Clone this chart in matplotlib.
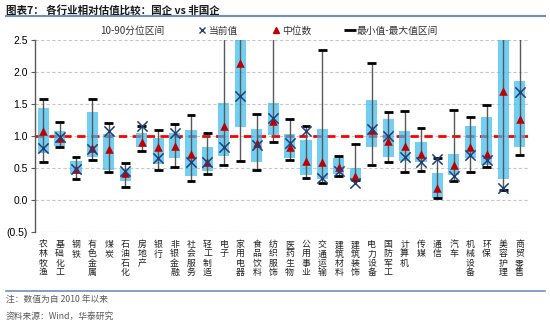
import numpy as np
import matplotlib.pyplot as plt
from matplotlib.lines import Line2D
from matplotlib.patches import Patch

plt.rcParams['font.family'] = ['Noto Sans CJK SC', 'DejaVu Sans']

industries = ['农林牧渔', '基础化工', '钢铁', '有色金属', '煤炭', '石油石化', '房地产', '银行',
              '非银金融', '社会服务', '轻工制造', '电子', '家用电器', '食品饮料', '纺织服饰',
              '医药生物', '公用事业', '交通运输', '建筑材料', '建筑装饰', '电力设备', '国防军工',
              '计算机', '传媒', '通信', '汽车', '机械设备', '环保', '美容护理', '商贸零售']

# 10% / 90% quantiles
p10 = [0.73, 0.85, 0.40, 0.67, 0.47, 0.29, 0.83, 0.56, 0.65, 0.37, 0.46, 0.69, 1.14, 0.59, 1.02,
       0.66, 0.39, 0.33, 0.41, 0.29, 0.82, 0.67, 0.61, 0.60, 0.03, 0.39, 0.66, 0.55, 0.32, 0.82]
p90 = [1.44, 1.07, 0.61, 1.37, 1.03, 0.48, 1.04, 0.97, 1.04, 1.09, 0.82, 1.51, 3.20, 1.11, 1.51,
       1.03, 0.94, 1.11, 0.66, 0.50, 1.56, 1.27, 1.08, 0.91, 0.42, 0.71, 1.15, 1.30, 3.30, 1.85]
# min / max
vmin = [0.59, 0.82, 0.32, 0.63, 0.43, 0.21, 0.77, 0.47, 0.52, 0.30, 0.40, 0.55, 0.61, 0.47, 0.90,
        0.62, 0.34, 0.27, 0.37, 0.31, 0.55, 0.60, 0.44, 0.45, 0.03, 0.29, 0.44, 0.51, 0.16, 0.70]
vmax = [1.58, 1.22, 0.67, 1.58, 1.20, 0.58, 1.16, 1.09, 1.18, 1.32, 1.04, 3.50, 3.80, 1.34, 3.00,
        1.27, 1.15, 2.34, 0.68, 0.87, 2.14, 1.38, 1.39, 1.13, 0.65, 1.41, 1.29, 1.48, 4.00, 3.20]
median = [1.07, 0.96, 0.48, 0.81, 0.79, 0.42, 0.90, 0.82, 0.84, 0.72, 0.60, 1.16, 2.14, 0.89, 1.24,
          0.83, 0.61, 0.59, 0.51, 0.38, 1.10, 0.92, 0.85, 0.71, 0.19, 0.54, 0.83, 0.71, 1.70, 1.27]
current = [0.81, 0.99, 0.48, 0.79, 1.07, 0.45, 1.15, 0.66, 1.04, 0.59, 0.59, 0.83, 1.63, 0.86, 1.28,
           0.89, 1.08, 0.34, 0.46, 0.27, 1.11, 1.00, 0.67, 0.60, 0.64, 0.37, 0.70, 0.62, 0.19, 1.69]

x = np.arange(len(industries))
p10 = np.array(p10)
p90 = np.array(p90)

fig = plt.figure(figsize=(5.5, 3.24), dpi=100)
ax = fig.add_axes([0.0636, 0.284, 0.896, 0.593])

ax.axhline(1.0, color='#FF0000', lw=2, ls=(0, (3, 2)), zorder=1)
ax.bar(x, p90 - p10, bottom=p10, width=0.68, color='#33BBEE', alpha=0.7, zorder=2)
ax.vlines(x, vmin, vmax, color='#595959', lw=1, zorder=3)
ax.hlines(vmin, x - 0.27, x + 0.27, color='black', lw=2, zorder=3)
ax.hlines(vmax, x - 0.27, x + 0.27, color='black', lw=2, zorder=3)
ax.scatter(x, median, marker='^', s=38, color='#C00000', zorder=4, lw=0)
ax.scatter(x, current, marker='x', s=55, color='#1F3F7A', lw=1.1, zorder=5)

ax.set_xlim(-0.5, len(industries) - 0.5)
ax.set_ylim(-0.5, 2.5)
yt = np.arange(-0.5, 2.51, 0.5)
ax.set_yticks(yt)
ax.set_yticklabels(['(0.5)' if v < 0 else f'{v:.1f}' for v in yt],
                   fontsize=7.5, family=['Liberation Sans', 'DejaVu Sans'])
ax.tick_params(axis='y', length=3, width=0.8, color='#595959', pad=2)
for v in yt:
    ax.axhline(v, color='#C8C8C8', lw=0.8, ls=(0, (3, 2)), zorder=0)

ax.set_xticks(x)
ax.set_xticklabels(['\n'.join(s) for s in industries], fontsize=6.4, linespacing=1.02,
                   va='top', color='#222222')
ax.tick_params(axis='x', length=0, pad=6)

for side in ['top', 'right', 'bottom']:
    ax.spines[side].set_visible(False)
ax.spines['left'].set_color('#595959')
ax.spines['left'].set_linewidth(1.0)

handles = [Patch(facecolor='none', edgecolor='none'),
           Line2D([], [], marker='x', ls='none', color='#1F3F7A', markersize=5, mew=1),
           Line2D([], [], marker='^', ls='none', color='#C00000', markersize=4.5),
           Line2D([], [], marker='_', ls='none', color='black', markersize=8, mew=2)]
labels = ['10-90分位区间', '当前值', '中位数', '最小值-最大值区间']
fig.legend(handles, labels, loc='center', bbox_to_anchor=(0.479, 0.905), ncol=4, frameon=False,
           fontsize=7, handlelength=0.8, handletextpad=0.3, columnspacing=3.5,
           labelcolor='#333333')

fig.text(0.01, 0.967, '图表7： 各行业相对估值比较：国企 vs 非国企', fontsize=7.6,
         fontweight='bold', color='#1A1A1A', va='center')
fig.add_artist(Line2D([0.01, 0.99], [0.952, 0.952], color='#6F8FBF', lw=1.5))
fig.add_artist(Line2D([0.01, 0.99], [0.101, 0.101], color='#6F8FBF', lw=1.2))
fig.text(0.01, 0.072, '注：数值为自 2010 年以来', fontsize=6.3, color='#595959', va='center')
fig.text(0.01, 0.024, '资料来源：Wind，华泰研究', fontsize=6.3, color='#595959', va='center')

fig.savefig('out.png', dpi=100)
